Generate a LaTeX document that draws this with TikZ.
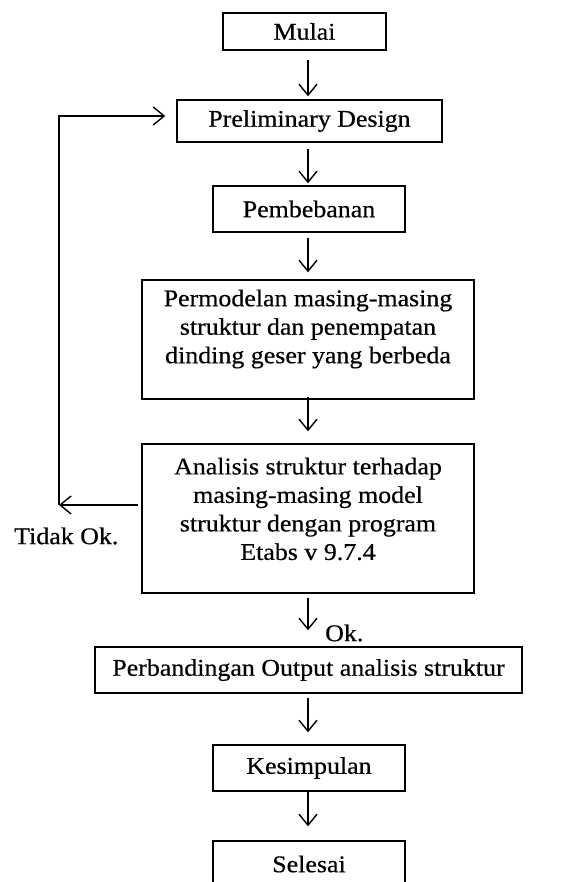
\documentclass[tikz,border=0pt]{standalone}
\usepackage{fontspec}
\setmainfont{Liberation Serif}[FakeStretch=1.08,FakeBold=0.5]
\usetikzlibrary{arrows.meta}
\begin{document}
\begin{tikzpicture}[x=1pt,y=-1pt,
  box/.style={draw=black, line width=1.4pt, inner sep=0pt, align=center,
    font=\fontsize{24}{28.5}\selectfont},
  txt/.style={inner sep=0pt, align=center, font=\fontsize{24}{28.5}\selectfont},
  arr/.style={draw=black, line width=1.4pt, -{Straight Barb[length=11pt,width=18pt,line width=1.4pt]}}]
\useasboundingbox (0,0) rectangle (561,882);
\fill[white] (0,0) rectangle (561,882);

\node[box, minimum width=163pt, minimum height=37pt] (mulai) at (304.5,31.5) {Mulai};
\node[box, minimum width=265pt, minimum height=42pt] (pd) at (309.5,121) {Preliminary Design};
\node[box, minimum width=192pt, minimum height=46pt] (pemb) at (309,209) {Pembebanan};
\node[box, minimum width=332pt, minimum height=119pt] (perm) at (308,339.5) {};
\node[txt] (permt) at (308,329) {Permodelan masing-masing\\struktur dan penempatan\\dinding geser yang berbeda};
\node[box, minimum width=332pt, minimum height=149pt] (anal) at (308,518.5) {};
\node[txt] (analt) at (308,509) {Analisis struktur terhadap\\masing-masing model\\struktur dengan program\\Etabs v 9.7.4};
\node[box, minimum width=427pt, minimum height=46pt] (perb) at (308.5,670) {Perbandingan Output analisis struktur};
\node[box, minimum width=192pt, minimum height=46pt] (kes) at (309,768) {Kesimpulan};
\node[box, minimum width=192pt, minimum height=46pt] (sel) at (309,864) {Selesai};

\node[txt, anchor=west] (tidak) at (14,536) {Tidak Ok.};
\node[txt, anchor=west] (ok) at (325,633) {Ok.};

\coordinate (c) at (308,0);
\draw[arr, shorten <=9pt, shorten >=3pt] (mulai.south -| c) -- (pd.north -| c);
\draw[arr, shorten <=6pt, shorten >=2pt] (pd.south -| c) -- (pemb.north -| c);
\draw[arr, shorten <=5pt, shorten >=7pt] (pemb.south -| c) -- (perm.north -| c);
\draw[arr, shorten <=-3pt, shorten >=12pt] (perm.south -| c) -- (anal.north -| c);
\draw[arr, shorten <=4pt, shorten >=16pt] (anal.south -| c) -- (perb.north -| c);
\draw[arr, shorten <=4pt, shorten >=12pt] (perb.south -| c) -- (kes.north -| c);
\draw[arr, shorten <=0pt, shorten >=14pt] (kes.south -| c) -- (sel.north -| c);

\coordinate (fbstart) at (138,505);
\coordinate (fbcorner) at (59,505);
\coordinate (fbtop) at (59,116);
\draw[arr] (fbstart) -- (fbcorner);
\draw[arr, shorten >=11pt] (fbcorner) -- (fbtop) -- (fbtop -| pd.west);
\end{tikzpicture}
\end{document}
